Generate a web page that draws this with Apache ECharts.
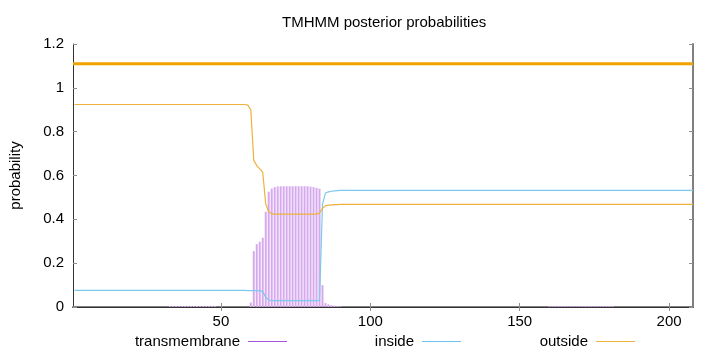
<!DOCTYPE html>
<html><head><meta charset="utf-8">
<script src="https://cdn.jsdelivr.net/npm/echarts@6/dist/echarts.min.js"></script>
<style>html,body{margin:0;padding:0;background:#fff}#c{width:720px;height:352px}</style>
</head><body><div id="c"></div>
<script>
// ---- data (residue position = index + 1) ----
const seriesNames = ['transmembrane', 'inside', 'outside'];
const xTickValues = [50, 100, 150, 200];
const xRange = [0.5, 208];
const yRange = [0, 1.2];
const yStep = 0.2;
const topologyLevel = 1.11;
const topologySpan = [0.5, 208];

const transmembraneValues = [
  0,0,0,0,0,0,0,0,0,0,
  0,0,0,0,0,0,0,0,0,0,
  0,0,0,0,0,0,0,0,0,0,
  0,0,0.004,0.004,0.004,0.004,0.004,0.004,0.004,0.004,
  0.004,0.004,0.004,0.004,0.004,0.004,0.004,0.004,0,0,
  0,0,0,0,0,0,0,0,0,0.020,
  0.255,0.287,0.298,0.316,0.435,0.526,0.540,0.547,0.550,0.551,
  0.551,0.551,0.551,0.551,0.551,0.551,0.551,0.551,0.551,0.549,
  0.547,0.544,0.540,0.100,0.018,0.012,0.008,0.006,0.004,0.003,
  0,0,0,0,0,0,0,0,0,0,
  0,0,0,0,0,0,0,0,0,0,
  0,0,0,0,0,0,0,0,0,0,
  0,0,0,0,0,0,0,0,0,0,
  0,0,0,0,0,0,0,0,0,0,
  0,0,0,0,0,0,0,0,0,0,
  0,0,0,0,0,0,0,0,0,0.004,
  0.004,0.004,0.004,0.004,0.004,0.004,0.004,0.004,0.004,0.004,
  0.004,0.004,0.004,0.004,0.004,0.004,0.004,0.004,0.004,0.004,
  0.004,0,0,0,0,0,0,0,0,0,
  0,0,0,0,0,0,0,0,0,0,
  0,0,0,0,0,0,0,0
];

const insideValues = [
  0.076,0.076,0.076,0.076,0.076,0.076,0.076,0.076,0.076,0.076,
  0.076,0.076,0.076,0.076,0.076,0.076,0.076,0.076,0.076,0.076,
  0.076,0.076,0.076,0.076,0.076,0.076,0.076,0.076,0.076,0.076,
  0.076,0.076,0.076,0.076,0.076,0.076,0.076,0.076,0.076,0.076,
  0.076,0.076,0.076,0.076,0.076,0.076,0.076,0.076,0.076,0.076,
  0.076,0.076,0.076,0.076,0.076,0.076,0.076,0.076,0.075,0.075,
  0.075,0.075,0.075,0.070,0.045,0.032,0.030,0.029,0.029,0.029,
  0.029,0.029,0.029,0.029,0.029,0.029,0.029,0.029,0.029,0.029,
  0.029,0.029,0.030,0.470,0.520,0.525,0.528,0.530,0.531,0.532,
  0.532,0.532,0.532,0.532,0.532,0.532,0.532,0.532,0.532,0.532,
  0.532,0.532,0.532,0.532,0.532,0.532,0.532,0.532,0.532,0.532,
  0.532,0.532,0.532,0.532,0.532,0.532,0.532,0.532,0.532,0.532,
  0.532,0.532,0.532,0.532,0.532,0.532,0.532,0.532,0.532,0.532,
  0.532,0.532,0.532,0.532,0.532,0.532,0.532,0.532,0.532,0.532,
  0.532,0.532,0.532,0.532,0.532,0.532,0.532,0.532,0.532,0.532,
  0.532,0.532,0.532,0.532,0.532,0.532,0.532,0.532,0.532,0.532,
  0.532,0.532,0.532,0.532,0.532,0.532,0.532,0.532,0.532,0.532,
  0.532,0.532,0.532,0.532,0.532,0.532,0.532,0.532,0.532,0.532,
  0.532,0.532,0.532,0.532,0.532,0.532,0.532,0.532,0.532,0.532,
  0.532,0.532,0.532,0.532,0.532,0.532,0.532,0.532,0.532,0.532,
  0.532,0.532,0.532,0.532,0.532,0.532,0.532,0.532
];

const outsideValues = [
  0.924,0.924,0.924,0.924,0.924,0.924,0.924,0.924,0.924,0.924,
  0.924,0.924,0.924,0.924,0.924,0.924,0.924,0.924,0.924,0.924,
  0.924,0.924,0.924,0.924,0.924,0.924,0.924,0.924,0.924,0.924,
  0.924,0.924,0.924,0.924,0.924,0.924,0.924,0.924,0.924,0.924,
  0.924,0.924,0.924,0.924,0.924,0.924,0.924,0.924,0.924,0.924,
  0.924,0.924,0.924,0.924,0.924,0.924,0.924,0.924,0.921,0.900,
  0.669,0.645,0.630,0.615,0.470,0.435,0.426,0.424,0.424,0.424,
  0.424,0.424,0.424,0.424,0.424,0.424,0.424,0.424,0.424,0.424,
  0.424,0.424,0.428,0.450,0.462,0.465,0.466,0.467,0.467,0.468,
  0.468,0.468,0.468,0.468,0.468,0.468,0.468,0.468,0.468,0.468,
  0.468,0.468,0.468,0.468,0.468,0.468,0.468,0.468,0.468,0.468,
  0.468,0.468,0.468,0.468,0.468,0.468,0.468,0.468,0.468,0.468,
  0.468,0.468,0.468,0.468,0.468,0.468,0.468,0.468,0.468,0.468,
  0.468,0.468,0.468,0.468,0.468,0.468,0.468,0.468,0.468,0.468,
  0.468,0.468,0.468,0.468,0.468,0.468,0.468,0.468,0.468,0.468,
  0.468,0.468,0.468,0.468,0.468,0.468,0.468,0.468,0.468,0.468,
  0.468,0.468,0.468,0.468,0.468,0.468,0.468,0.468,0.468,0.468,
  0.468,0.468,0.468,0.468,0.468,0.468,0.468,0.468,0.468,0.468,
  0.468,0.468,0.468,0.468,0.468,0.468,0.468,0.468,0.468,0.468,
  0.468,0.468,0.468,0.468,0.468,0.468,0.468,0.468,0.468,0.468,
  0.468,0.468,0.468,0.468,0.468,0.468,0.468,0.468
];

// ---- styling ----
const FONT = "'Liberation Sans', Arial, Helvetica, sans-serif";
const TXT = { fontFamily: FONT, fontSize: 15, color: '#000' };
const colors = { tm: '#d6a9ee', tmKey: '#a855dc', inside: '#7cc9ee', insideKey: '#6ec3ec', outside: '#f0b13c', outsideKey: '#f0b340', topo: '#f0a200' };
const KEY_ICON = 'path://M0,0H39V1H0Z';

const toPairs = arr => arr.map((v, i) => [i + 1, v]);

function legendFor(name, keyColor, rightPx) {
  return {
    data: [{ name: name, icon: KEY_ICON, itemStyle: { color: keyColor, borderWidth: 0, opacity: 1 } }],
    right: rightPx, top: 334, padding: 0,
    align: 'right', itemWidth: 39, itemHeight: 14, symbolKeepAspect: true,
    selectedMode: false,
    textStyle: Object.assign({}, TXT, { padding: [0, 3, 0, 0] })
  };
}

const chart = echarts.init(document.getElementById('c'), null, { renderer: 'canvas' });
chart.setOption({
  animation: false,
  backgroundColor: '#ffffff',
  title: {
    text: 'TMHMM posterior probabilities', left: 282, top: 15, padding: 0,
    textStyle: Object.assign({}, TXT, { fontWeight: 'normal' })
  },
  grid: { left: 73, right: 27, top: 44, bottom: 45 },
  legend: [
    legendFor(seriesNames[0], colors.tmKey, 433),
    legendFor(seriesNames[1], colors.insideKey, 259),
    legendFor(seriesNames[2], colors.outsideKey, 85)
  ],
  xAxis: [
    {
      type: 'value', position: 'bottom', min: xRange[0], max: xRange[1],
      axisLine: { show: true, lineStyle: { color: '#808080', width: 2 } },
      axisTick: { show: true, inside: true, length: 4, customValues: xTickValues, lineStyle: { color: '#909090' } },
      axisLabel: Object.assign({ customValues: xTickValues, margin: 7 }, TXT),
      splitLine: { show: false }
    },
    {
      type: 'value', position: 'top', min: xRange[0], max: xRange[1],
      axisLine: { show: true, lineStyle: { color: '#333', width: 1 } },
      axisTick: { show: true, inside: true, length: 4, customValues: xTickValues, lineStyle: { color: '#909090' } },
      axisLabel: { show: false },
      splitLine: { show: false }
    }
  ],
  yAxis: [
    {
      type: 'value', position: 'left', min: yRange[0], max: yRange[1], interval: yStep,
      axisLine: { show: true, lineStyle: { color: '#333', width: 1 } },
      axisTick: { show: true, inside: true, length: 4, lineStyle: { color: '#909090' } },
      axisLabel: Object.assign({ margin: 9 }, TXT),
      splitLine: { show: false },
      name: 'probability', nameLocation: 'middle', nameGap: 50, nameRotate: 90,
      nameTextStyle: TXT
    },
    {
      type: 'value', position: 'right', min: yRange[0], max: yRange[1], interval: yStep,
      axisLine: { show: true, lineStyle: { color: '#808080', width: 2 } },
      axisTick: { show: true, inside: true, length: 4, lineStyle: { color: '#909090' } },
      axisLabel: { show: false },
      splitLine: { show: false }
    }
  ],
  series: [
    {
      name: seriesNames[0], type: 'bar', xAxisIndex: 0, yAxisIndex: 0,
      data: toPairs(transmembraneValues), barWidth: 2,
      itemStyle: { color: colors.tm }, z: 2
    },
    {
      name: seriesNames[1], type: 'line', data: toPairs(insideValues),
      symbol: 'none', lineStyle: { color: colors.inside, width: 1.2 }, itemStyle: { color: colors.inside }, z: 3
    },
    {
      name: seriesNames[2], type: 'line', data: toPairs(outsideValues),
      symbol: 'none', lineStyle: { color: colors.outside, width: 1.2 }, itemStyle: { color: colors.outside }, z: 4
    },
    {
      name: 'topology', type: 'line',
      data: topologySpan.map(x => [x, topologyLevel]),
      symbol: 'none', lineStyle: { color: colors.topo, width: 3 }, z: 5
    }
  ]
});
</script>
</body></html>
